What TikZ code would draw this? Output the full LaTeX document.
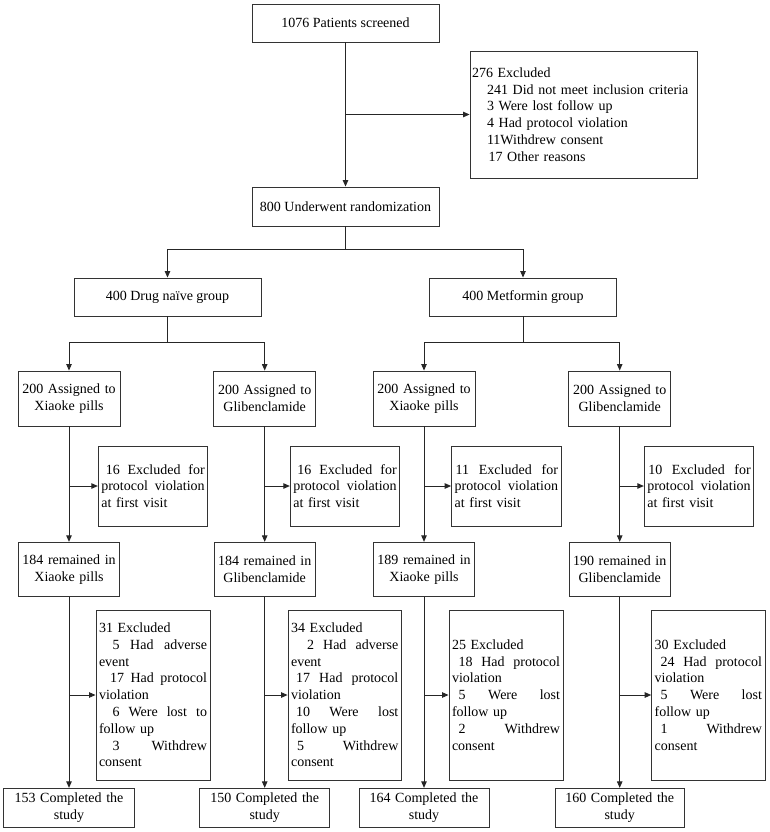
\documentclass[tikz,border=0pt]{standalone}
\usepackage{fontspec}
\setmainfont{Liberation Serif}
\usepackage{tikz}
\usetikzlibrary{arrows.meta}

\tikzset{
    box/.style={draw=black!80, line width=0.9pt, inner sep=3pt, align=center,
        font=\fontsize{14}{16.8}\selectfont},
    arr/.style={line width=0.9pt, draw=black!85, -{Triangle[length=6.5pt,width=5.5pt]}}
}

\begin{document}
\begin{tikzpicture}[x=1pt, y=-1pt]
    \useasboundingbox (0,0) rectangle (770,832);
    % screening and randomization
    \node(scr)[box, minimum width=187pt, minimum height=38pt] at (345.5,23) {1076 Patients screened};
    \node(excl)[box, align=left, inner xsep=2pt, text width=223pt, minimum height=127pt] at (583.5,114.5)
        {276 Excluded\\
         \hspace*{15pt}241 Did not meet inclusion criteria\\
         \hspace*{15pt}3 Were lost follow up\\
         \hspace*{15pt}4 Had protocol violation\\
         \hspace*{15pt}11Withdrew consent\\
         \hspace*{16.5pt}17 Other reasons};
    \node(rnd)[box, minimum width=187pt, minimum height=39pt] at (345.5,206.5) {800 Underwent randomization};
    \node(naive)[box, minimum width=187pt, minimum height=38pt] at (167.5,297) {400 Drug naïve group};
    \node(met)[box, minimum width=187pt, minimum height=38pt] at (523,297) {400 Metformin group};
    \coordinate(s0) at (345.5,249);
    \coordinate(s1) at (167.5,342);
    \coordinate(s2) at (523,342);

    % assigned
    \node(a1)[box, text width=96pt, minimum height=55pt] at (69,398.5) {200 Assigned to\\ Xiaoke pills};
    \node(a2)[box, text width=96pt, minimum height=55pt] at (264.7,398.5) {200 Assigned to\\ Glibenclamide};
    \node(a3)[box, text width=96pt, minimum height=55pt] at (424,398.5) {200 Assigned to\\ Xiaoke pills};
    \node(a4)[box, text width=96pt, minimum height=55pt] at (619.7,398.5) {200 Assigned to\\ Glibenclamide};

    % excluded at first visit
    \node(e1)[box, align=left, text width=103.4pt, minimum height=80pt] at (153,486)
        {\hspace*{4.5pt}16\hfill Excluded\hfill for\\ protocol\hfill violation\\ at first visit};
    \node(e2)[box, align=left, text width=103.4pt, minimum height=80pt] at (345,486)
        {\hspace*{4pt}16\hfill Excluded\hfill for\\ protocol\hfill violation\\ at first visit};
    \node(e3)[box, align=left, text width=103.4pt, minimum height=80pt] at (506.3,486)
        {\hspace*{1pt}11\hfill Excluded\hfill for\\ protocol\hfill violation\\ at first visit};
    \node(e4)[box, align=left, text width=103.4pt, minimum height=80pt] at (699,486)
        {\hspace*{1pt}10\hfill Excluded\hfill for\\ protocol\hfill violation\\ at first visit};

    % remained
    \node(r1)[box, text width=94.5pt, minimum height=54.4pt] at (69,569.5) {184 remained in\\ Xiaoke pills};
    \node(r2)[box, text width=94.5pt, minimum height=54.4pt] at (264.7,569.5) {184 remained in\\ Glibenclamide};
    \node(r3)[box, text width=94.5pt, minimum height=54.4pt] at (424,569.5) {189 remained in\\ Xiaoke pills};
    \node(r4)[box, text width=94.5pt, minimum height=54.4pt] at (619.7,569.5) {190 remained in\\ Glibenclamide};

    % excluded during follow up
    \node(x1)[box, align=left, text width=108pt, minimum height=170pt] at (153,695)
        {31 Excluded\\
         \hspace*{13.5pt}5\hfill Had\hfill adverse\\ event\\
         \hspace*{11pt}17\hfill Had\hfill protocol\\ violation\\
         \hspace*{13.5pt}6\hfill Were\hfill lost\hfill to\\ follow up\\
         \hspace*{13.5pt}3\hfill Withdrew\\ consent};
    \node(x2)[box, align=left, text width=107.3pt, minimum height=170pt] at (344.7,695)
        {34 Excluded\\
         \hspace*{16pt}2\hfill Had\hfill adverse\\ event\\
         \hspace*{5pt}17\hfill Had\hfill protocol\\ violation\\
         \hspace*{5pt}10\hfill Were\hfill lost\\ follow up\\
         \hspace*{6pt}5\hfill Withdrew\\ consent};
    \node(x3)[box, align=left, text width=108pt, minimum height=170pt] at (506,695)
        {25 Excluded\\
         \hspace*{6.7pt}18\hfill Had\hfill protocol\\ violation\\
         \hspace*{6.7pt}5\hfill Were\hfill lost\\ follow up\\
         \hspace*{6.7pt}2\hfill Withdrew\\ consent};
    \node(x4)[box, align=left, text width=107.3pt, minimum height=170pt] at (708.3,695)
        {30 Excluded\\
         \hspace*{6pt}24\hfill Had\hfill protocol\\ violation\\
         \hspace*{6pt}5\hfill Were\hfill lost\\ follow up\\
         \hspace*{6pt}1\hfill Withdrew\\ consent};

    % completed
    \node(c1)[box, text width=125.7pt, minimum height=39.4pt] at (69,808) {153 Completed the\\ study};
    \node(c2)[box, text width=124pt, minimum height=39.4pt] at (264.7,808) {150 Completed the\\ study};
    \node(c3)[box, text width=124pt, minimum height=39.4pt] at (424,808) {164 Completed the\\ study};
    \node(c4)[box, text width=123.3pt, minimum height=39.4pt] at (619.7,808) {160 Completed the\\ study};

    % connectors
    \draw[arr] (scr) -- (rnd);
    \draw[arr] (scr.south |- excl.west) -- (excl.west);
    \draw[arr] (rnd) -- (s0) -| (naive);
    \draw[arr] (s0) -| (met);
    \draw[arr] (naive) -- (s1) -| (a1);
    \draw[arr] (s1) -| (a2);
    \draw[arr] (met) -- (s2) -| (a3);
    \draw[arr] (s2) -| (a4);
    \foreach \i in {1,2,3,4} {
        \draw[arr] (a\i) -- (r\i);
        \draw[arr] (a\i.south |- e\i.west) -- (e\i.west);
        \draw[arr] (r\i) -- (c\i);
        \draw[arr] (r\i.south |- x\i.west) -- (x\i.west);
    }
\end{tikzpicture}
\end{document}
